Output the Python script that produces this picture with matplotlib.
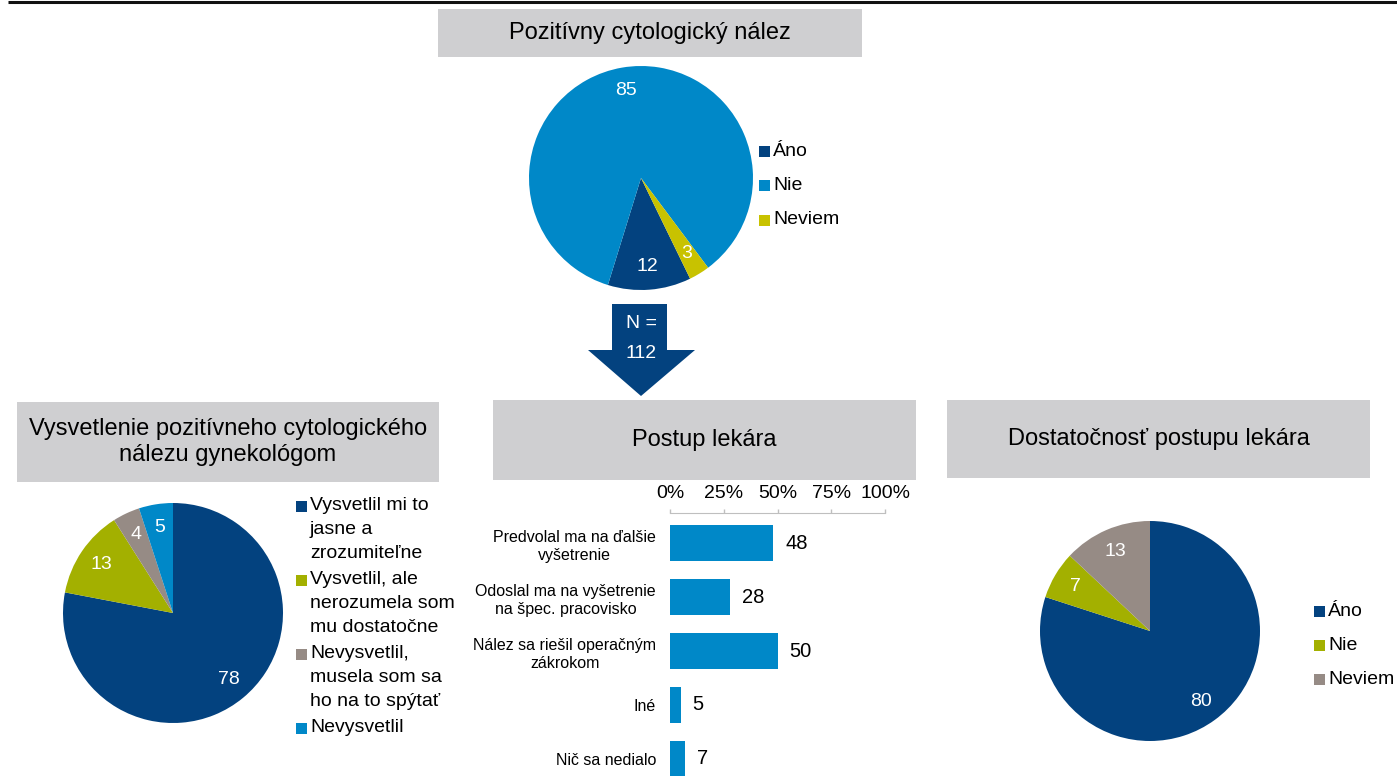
import matplotlib
matplotlib.use("Agg")
import matplotlib.pyplot as plt
from matplotlib.patches import Rectangle, Polygon

plt.rcParams["font.family"] = ["Liberation Sans", "DejaVu Sans"]

W, H = 1397, 776

# --- data ---
top_title = "Pozitívny cytologický nález"
top_labels = ["Áno", "Nie", "Neviem"]
top_values = [12, 85, 3]
n_total = 112

expl_title = "Vysvetlenie pozitívneho cytologického\nnálezu gynekológom"
expl_labels = ["Vysvetlil mi to\njasne a\nzrozumiteľne",
               "Vysvetlil, ale\nnerozumela som\nmu dostatočne",
               "Nevysvetlil,\nmusela som sa\nho na to spýtať",
               "Nevysvetlil"]
expl_values = [78, 13, 4, 5]

steps_title = "Postup lekára"
steps = ["Predvolal ma na ďalšie\nvyšetrenie",
         "Odoslal ma na vyšetrenie\nna špec. pracovisko",
         "Nález sa riešil operačným\nzákrokom",
         "Iné",
         "Nič sa nedialo"]
step_values = [48, 28, 50, 5, 7]
pct_ticks = [0, 25, 50, 75, 100]

suff_title = "Dostatočnosť postupu lekára"
suff_labels = ["Áno", "Nie", "Neviem"]
suff_values = [80, 7, 13]

DARK, LIGHT, YEL, OLIVE, GREY = "#03427F", "#0088C8", "#C8C200", "#A3B000", "#968B85"
BOX = "#CFCFD1"

fig = plt.figure(figsize=(W / 100, H / 100), dpi=100)
bg = fig.add_axes([0, 0, 1, 1])
bg.set_xlim(0, W); bg.set_ylim(H, 0); bg.axis("off")


def px_axes(x, y, w, h):
    return fig.add_axes([x / W, 1 - (y + h) / H, w / W, h / H])


def title_box(x0, y0, x1, y1, text, fs=17, step=27):
    bg.add_patch(Rectangle((x0, y0), x1 - x0, y1 - y0, color=BOX, lw=0))
    lines = text.split("\n")
    cy = (y0 + y1) / 2
    for i, ln in enumerate(lines):
        bg.text((x0 + x1) / 2, cy + (i - (len(lines) - 1) / 2) * step, ln,
                ha="center", va="center", fontsize=fs)


def pie(cx, cy, r, values, colors, start):
    ax = px_axes(cx - r, cy - r, 2 * r, 2 * r)
    _, _, autos = ax.pie(values, colors=colors, startangle=start, counterclock=False, radius=1,
                         autopct="%.0f", pctdistance=0.79,
                         wedgeprops=dict(linewidth=0),
                         textprops=dict(color="white", fontsize=14))
    for t, v in zip(autos, values):
        t.set_text(str(v))
    ax.set_xlim(-1, 1); ax.set_ylim(-1, 1)
    return ax


def legend(x, ys, labels, colors, fs=14, sq=11, line_step=24):
    for y, lab, c in zip(ys, labels, colors):
        bg.add_patch(Rectangle((x, y - sq / 2), sq, sq, color=c, lw=0))
        for i, ln in enumerate(lab.split("\n")):
            bg.text(x + sq + 3, y + i * line_step, ln, ha="left", va="center", fontsize=fs)


# top rule
bg.plot([8, W], [2, 2], color="#111111", lw=2.2, solid_capstyle="butt")

# top pie
title_box(438, 9, 862, 57, top_title)
top_cols = [DARK, LIGHT, YEL]
pie(641, 178, 112, top_values, top_cols, -64)
legend(759, [151 + 34.5 * i for i in range(3)], top_labels, top_cols)

# arrow
bg.add_patch(Polygon([(612, 304), (667, 304), (667, 350), (695, 350), (641, 396),
                      (588, 350), (612, 350)], closed=True, color=DARK, lw=0))
bg.text(641, 323, "N =", color="white", ha="center", va="center", fontsize=14)
bg.text(641, 353, str(n_total), color="white", ha="center", va="center", fontsize=14)

# bottom-left pie
title_box(17, 402, 439, 482, expl_title)
expl_cols = [DARK, OLIVE, GREY, LIGHT]
pie(173, 613, 110, expl_values, expl_cols, 90)
legend(296, [506 + 74 * i for i in range(4)], expl_labels, expl_cols)

# middle bar chart
title_box(493, 400, 916, 480, steps_title)
ax = px_axes(670, 513, 215, 263)
ax.patch.set_alpha(0)
yy = list(range(len(steps)))
ax.barh(yy, step_values, height=0.667, color=LIGHT)
ax.set_xlim(0, 100); ax.set_ylim(4.315, -0.556)
ax.xaxis.tick_top()
ax.set_xticks(pct_ticks)
ax.set_xticklabels([f"{t}%" for t in pct_ticks], fontsize=14)
ax.tick_params(axis="x", color="#BFBFBF", length=3, width=1, pad=5)
ax.set_yticks(yy)
ax.set_yticklabels(steps, fontsize=11.5, multialignment="center", linespacing=1.25)
ax.tick_params(axis="y", length=0, pad=10)
for s in ["left", "right", "bottom"]:
    ax.spines[s].set_visible(False)
ax.spines["top"].set_color("#BFBFBF")
for yi, v in zip(yy, step_values):
    ax.annotate(str(v), (v, yi), xytext=(8.5, 0), textcoords="offset points",
                va="center", ha="left", fontsize=14.5)

# bottom-right pie
title_box(947, 400, 1370, 478, suff_title)
suff_cols = [DARK, OLIVE, GREY]
pie(1150, 631, 110, suff_values, suff_cols, 90)
legend(1314, [611 + 34 * i for i in range(3)], suff_labels, suff_cols)

fig.savefig("out.png", dpi=100)
